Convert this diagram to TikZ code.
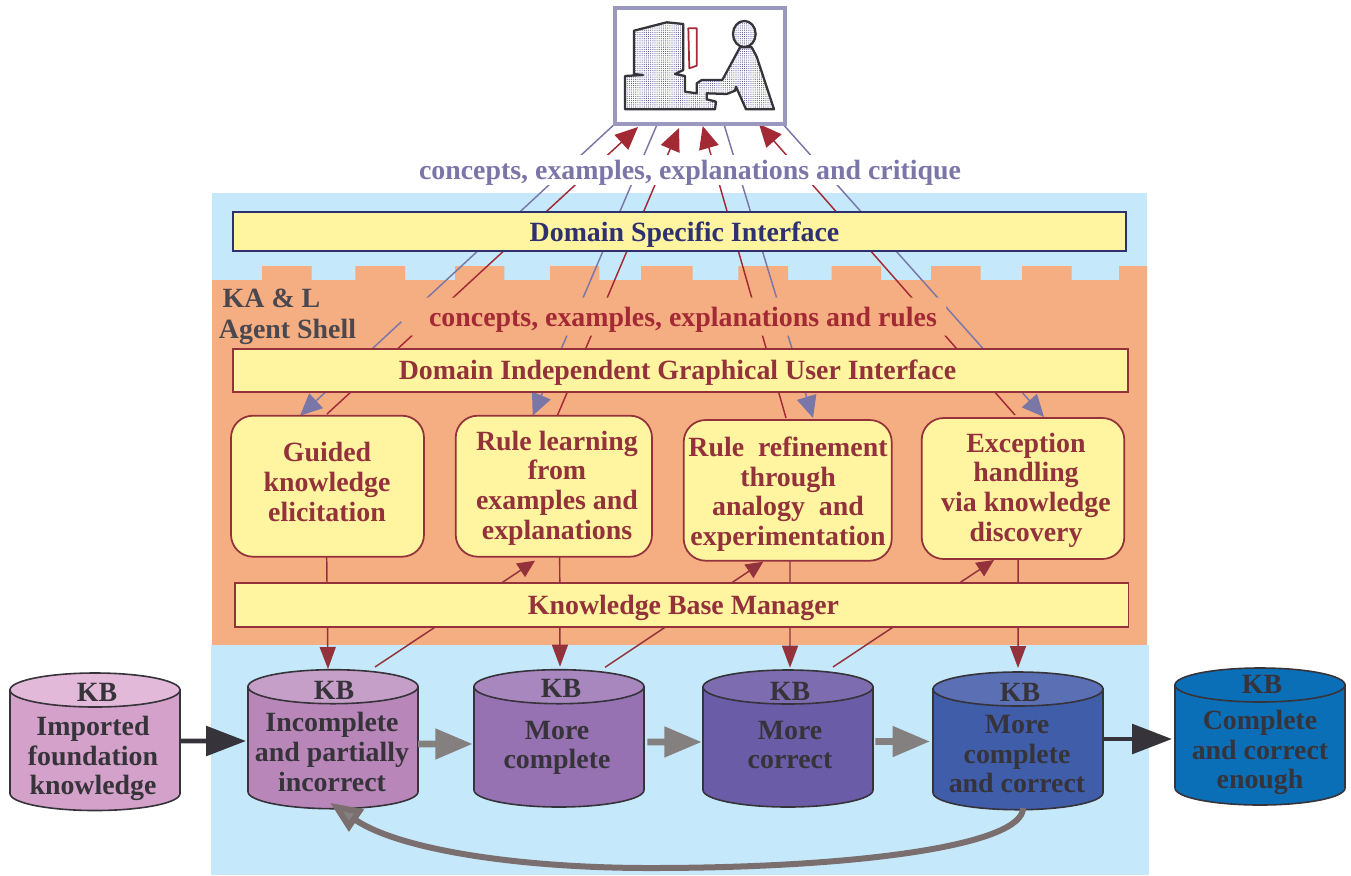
\documentclass[tikz,border=0pt]{standalone}
\usepackage{fontspec}
\setmainfont{Liberation Serif}
\usetikzlibrary{arrows.meta,calc,fit,patterns.meta}
\definecolor{bgblue}{HTML}{C5E9FA}
\definecolor{bgorange}{HTML}{F5AD82}
\definecolor{paleyellow}{HTML}{FFF5A0}
\definecolor{brickred}{HTML}{93323A}
\definecolor{arrowred}{HTML}{A32A35}
\definecolor{lineblue}{HTML}{7B76A8}
\definecolor{navy}{HTML}{2F3070}
\definecolor{inkdark}{HTML}{36343A}
\definecolor{greyhead}{HTML}{858080}
\definecolor{greyshaft}{HTML}{7A6F6E}
\definecolor{frameblue}{HTML}{9A98BF}
\definecolor{kbAbody}{HTML}{D3A1C9}\definecolor{kbAtop}{HTML}{E2B9D9}
\definecolor{kbBbody}{HTML}{B986BA}\definecolor{kbBtop}{HTML}{C69FC8}
\definecolor{kbCbody}{HTML}{9772B2}\definecolor{kbCtop}{HTML}{A887BF}
\definecolor{kbDbody}{HTML}{6A5CA7}\definecolor{kbDtop}{HTML}{7D6CB0}
\definecolor{kbEbody}{HTML}{3F5DA9}\definecolor{kbEtop}{HTML}{5B6FB5}
\definecolor{kbFbody}{HTML}{0B6FB8}\definecolor{kbFtop}{HTML}{0B6FB8}
\pgfdeclarelayer{bgfill}
\pgfdeclarelayer{lines}
\pgfsetlayers{bgfill,lines,main}
\tikzset{
  x=0.75pt,y=-0.75pt,
  anchorbox/.style={inner sep=0pt,outer sep=0pt},
  barbox/.style={anchorbox,draw=brickred,line width=1.3pt,fill=paleyellow},
  topbar/.style={barbox,draw=navy},
  modbox/.style={barbox,rounded corners=16.5pt},
  frame/.style={anchorbox,draw=frameblue,line width=3pt,fill=white},
  txt/.style={inner sep=0pt,outer sep=0pt,align=center,font=\fontsize{20.9}{22.2}\selectfont\bfseries},
  redtxt/.style={txt,text=brickred},
  kbtxt/.style={txt,text=inkdark},
  kbline/.style={draw=inkdark,line width=1.2pt},
  blueline/.style={draw=lineblue,line width=1.1pt},
  redline/.style={draw=arrowred,line width=1.1pt},
  bluearrow/.style={blueline,-{Triangle[length=16.5pt,width=15pt,fill=lineblue]}},
  redup/.style={redline,-{Triangle[length=17pt,width=15pt,fill=arrowred]}},
  reddown/.style={draw=brickred,line width=1.1pt,-{Triangle[length=16.5pt,width=12pt,fill=brickred]}},
  redsmall/.style={draw=brickred,line width=1.1pt,-{Triangle[length=13pt,width=12pt,fill=brickred]}},
  blackarrow/.style={draw=inkdark,line width=3.6pt,-{Triangle[length=30pt,width=22pt,fill=inkdark]}},
  greyarrow/.style={draw=greyhead,line width=5pt,-{Triangle[length=28pt,width=22pt,fill=greyhead]}},
  icon/.style={draw=inkdark,line width=1.7pt,line join=round,pattern={Dots[distance=1.6pt,radius=0.42pt]},pattern color=navy!85},
}
\newcommand{\kbcyl}[6]{% name, left, top centre y, bottom centre y, body, top
  \node[anchorbox,fit={(#2,#3-17) (#2+170,#4+17)}] (#1) {};
  \filldraw[kbline,fill=#5] (#2,#3) -- (#2,#4)
     arc[start angle=180,end angle=360,x radius=63.75pt,y radius=12.75pt]
     -- (#2+170,#3) -- cycle;
  \filldraw[kbline,fill=#6] (#2+85,#3) ellipse [x radius=63.75pt,y radius=12.75pt];
}
\begin{document}
\begin{tikzpicture}
\useasboundingbox (0,0) rectangle (1351,875);
% backgrounds
\begin{pgfonlayer}{bgfill}
  \fill[white] (0,0) rectangle (1351,875);
  \fill[bgblue] (212,193) rectangle (1147,285);
  \fill[bgorange] (212,645) -- (212,280) -- (262,280) -- (262,266) -- (311.7,266) -- (311.7,280)
    -- (355.3,280) -- (355.3,266) -- (405,266) -- (405,280)
    -- (455,280) -- (455,266) -- (504.3,266) -- (504.3,280)
    -- (550,280) -- (550,266) -- (599.3,266) -- (599.3,280)
    -- (641,280) -- (641,266) -- (692.7,266) -- (692.7,280)
    -- (738.3,280) -- (738.3,266) -- (788,266) -- (788,280)
    -- (831.7,280) -- (831.7,266) -- (881,266) -- (881,280)
    -- (931,280) -- (931,266) -- (980.7,266) -- (980.7,280)
    -- (1022,280) -- (1022,266) -- (1071.7,266) -- (1071.7,280)
    -- (1119,280) -- (1119,266) -- (1147,266) -- (1147,645) -- cycle;
  \fill[bgblue] (210.5,645) rectangle (1149,875);
\end{pgfonlayer}
% screen
\node[frame,fit={(615.3,8) (784.7,123.8)}] (scr) {};
\filldraw[icon,preaction={fill=white}] (634,30.7) -- (666.7,22.3) -- (683.3,24) -- (683.3,70) -- (675,74) -- (685,76)
  -- (685,91.7) -- (696.7,93.3) -- (696.7,83.3) -- (701.7,80) -- (722.3,80) -- (740,47.3) -- (751.7,47.3)
  -- (756.7,56.7) -- (774,109.3) -- (746,109.3) -- (736,86.7) -- (735,90.7) -- (726.7,94) -- (706.7,93.3)
  -- (706.7,99.3) -- (716,101.7) -- (715,109.3) -- (625,109.3) -- (625,76) -- (643,75) -- (634,74) -- cycle;
\filldraw[icon,preaction={fill=white}] (744.3,34) ellipse [x radius=8.5pt,y radius=9.8pt];
\draw[draw=arrowred,line width=1.3pt,line join=round] (688.3,28.3) -- (696.7,28.3) -- (696.7,65.7) -- (689.3,68.3) -- cycle;
% bars
\node[topbar,fit={(233,212) (1126,251)}] (dsi) {};
\node[barbox,fit={(233,349) (1128,392)}] (gui) {};
\node[barbox,fit={(235,583) (1128.5,626.7)}] (kbm) {};
% modules
\node[modbox,fit={(231,415.7) (424,556.7)}] (m1) {};
\node[modbox,fit={(455.7,415.7) (652,556.7)}] (m2) {};
\node[modbox,fit={(683.7,420) (891.7,560.7)}] (m3) {};
\node[modbox,fit={(921.7,418) (1124.3,559)}] (m4) {};
% knowledge bases
\kbcyl{kb1}{10}{690}{793.5}{kbAbody}{kbAtop}
\kbcyl{kb2}{248}{686.7}{791.7}{kbBbody}{kbBtop}
\kbcyl{kb3}{474}{686.7}{790}{kbCbody}{kbCtop}
\kbcyl{kb4}{703}{687}{790}{kbDbody}{kbDtop}
\kbcyl{kb5}{933}{689}{792.7}{kbEbody}{kbEtop}
\kbcyl{kb6}{1175}{685}{788}{kbFbody}{kbFtop}
% texts
\node[txt,text=lineblue] (lab1) at (690,173) {concepts, examples, explanations and critique};
\node[redtxt,text=arrowred] (lab2) at (683,320) {concepts, examples, explanations and rules};
\node[txt,text=navy] (tdsi) at (684.5,235) {Domain Specific Interface};
\node[redtxt] (tgui) at (677.5,373) {Domain Independent Graphical User Interface};
\node[redtxt] (tkbm) at (683.5,608) {Knowledge Base Manager};
\node[kbtxt,text=inkdark!90] (shell1) at (271.5,298) {KA \& L};
\node[kbtxt,text=inkdark!90] (shell2) at (287.5,332) {Agent Shell};
\node[redtxt] (tm1) at (327,482) {Guided\\knowledge\\elicitation};
\node[redtxt] (tm2) at (557,488) {Rule learning\\from\\examples and\\explanations};
\node[redtxt] (tm3) at (788,494) {Rule\ \ refinement\\through\\analogy\ \ and\\experimentation};
\node[redtxt] (tm4) at (1026,490) {Exception\\handling\\via knowledge\\discovery};
\node[kbtxt] (k1) at (97,692) {KB};
\node[kbtxt] (k2) at (334,690) {KB};
\node[kbtxt] (k3) at (561,688) {KB};
\node[kbtxt] (k4) at (790,691) {KB};
\node[kbtxt] (k5) at (1020,692) {KB};
\node[kbtxt] (k6) at (1262,684) {KB};
\node[kbtxt] (c1) at (93,758.5) {Imported\\foundation\\knowledge};
\node[kbtxt] (c2) at (332,752) {Incomplete\\and partially\\incorrect};
\node[kbtxt] (c3) at (557,748) {More\\complete};
\node[kbtxt] (c4) at (790,745) {More\\correct};
\node[kbtxt] (c5) at (1017,754) {More\\complete\\and correct};
\node[kbtxt] (c6) at (1260,752.5) {Complete\\and correct\\enough};
% connectors
\begin{pgfonlayer}{lines}
  \draw[bluearrow] ($(scr.south west)+(-2,1.5)$) -- ($(m1.north west)+(69,0)$);
  \draw[bluearrow] ($(scr.south west)+(41.4,1.5)$) -- ($(m2.north west)+(77,0)$);
  \draw[bluearrow] ($(scr.south west)+(109,1.5)$) -- ($(m3.north west)+(129.3,-2)$);
  \draw[bluearrow] ($(scr.south west)+(168.7,1.5)$) -- ($(m4.north west)+(122.3,-1)$);
  \draw[redup] ($(m1.north west)+(96,-1.7)$) -- ($(scr.south west)+(22.7,3.2)$);
  \draw[redup] ($(m2.north west)+(101.6,0)$) -- ($(scr.south west)+(63.7,4.2)$);
  \draw[redup] ($(m3.north west)+(102.3,-2)$) -- ($(scr.south west)+(87.4,2.2)$);
  \draw[redup] ($(m4.north west)+(93.3,-3)$) -- ($(scr.south west)+(143.7,0.2)$);
  \draw[reddown] ($(m1.south)+(-0.8,0)$) -- ($(kb2.north)+(-5,-0.7)$);
  \draw[reddown] ($(m2.south)+(5.85,0)$) -- ($(kb3.north)+(1,-3)$);
  \draw[reddown] ($(m3.south)+(2.3,0)$) -- ($(kb4.north)+(2,-2.3)$);
  \draw[reddown] ($(m4.south)+(-5,0)$) -- ($(kb5.north)+(0,-4)$);
  \draw[redsmall] ($(kb2.north)+(42,-2.7)$) -- ($(m2.south)+(-18.85,4)$);
  \draw[redsmall] ($(kb3.north)+(46,-2.4)$) -- ($(m3.south)+(-24.4,1)$);
  \draw[redsmall] ($(kb4.north)+(45,-3)$) -- ($(m4.south)+(-29,1)$);
  % gaps that the two labels open in the lines
  \fill[white] (400,155) rectangle (980,185);
  \fill[bgorange] (400,297.7) -- (946,297.7) -- (946,335.7) -- (411.7,335.7) -- (400.7,320.7) -- cycle;
\end{pgfonlayer}
\draw[blackarrow] ($(kb1.east)+(0,-0.75)$) -- ($(kb2.west)+(-2,1.8)$);
\draw[blackarrow] ($(kb5.east)+(0,-1.85)$) -- ($(kb6.west)+(-3,2.5)$);
\draw[greyarrow] ($(kb2.east)+(0,4.8)$) -- ($(kb3.west)+(-1.3,5.6)$);
\draw[greyarrow] ($(kb3.east)+(3.3,3.6)$) -- ($(kb4.west)+(-1.3,3.5)$);
\draw[greyarrow] ($(kb4.east)+(2.3,3)$) -- ($(kb5.west)+(-3,0.65)$);
\draw[draw=greyshaft,line width=4.5pt,-{Triangle[length=24pt,width=19pt,fill=greyhead]}]
  ($(kb5.south)+(5,-1.7)$) .. controls (1023,845) and (860,868) .. (650,868)
  .. controls (520,868) and (400,850) .. ($(kb2.south)+(-3,-6)$);
\end{tikzpicture}
\end{document}
